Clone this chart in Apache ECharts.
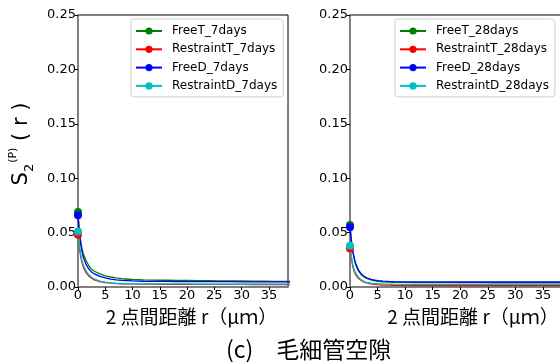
<!DOCTYPE html>
<html>
<head>
	<meta charset="utf-8">
	<title>chart</title>
</head>
<body style="margin:0; overflow:hidden;">

<div id="graph" style="width: 600px; height: 363px;"></div>
<script type="text/javascript" src="https://cdn.jsdelivr.net/npm/echarts@6/dist/echarts.min.js"></script>
<script type="text/javascript">
// 2 点間距離 r (μm)
const dist = [0, 0.25, 0.5, 0.75, 1, 1.5, 2, 2.5, 3, 4, 5, 6, 7, 8, 10, 12, 14, 16, 18, 20, 22, 24, 26, 28, 30, 32, 34, 36, 38, 41];

const names7 = ['FreeT_7days', 'RestraintT_7days', 'FreeD_7days', 'RestraintD_7days'];
const names28 = ['FreeT_28days', 'RestraintT_28days', 'FreeD_28days', 'RestraintD_28days'];

// 7days
const freeT7 = [0.069, 0.052, 0.042, 0.035, 0.030, 0.024, 0.0195, 0.0165, 0.0145, 0.0120, 0.0103, 0.0092, 0.0083, 0.0076, 0.0069, 0.0065, 0.0063, 0.0062, 0.0061, 0.0060, 0.0059, 0.0058, 0.0057, 0.0056, 0.0055, 0.0054, 0.0053, 0.0052, 0.0051, 0.0050];
const restraintT7 = [0.048, 0.036, 0.028, 0.022, 0.018, 0.0130, 0.0100, 0.0080, 0.0066, 0.0050, 0.0041, 0.0036, 0.0032, 0.0030, 0.0028, 0.0027, 0.0026, 0.0025, 0.0025, 0.0025, 0.0024, 0.0024, 0.0024, 0.0024, 0.0024, 0.0023, 0.0023, 0.0023, 0.0023, 0.0023];
const freeD7 = [0.066, 0.049, 0.039, 0.032, 0.027, 0.0205, 0.0165, 0.0138, 0.0120, 0.0097, 0.0083, 0.0073, 0.0066, 0.0061, 0.0056, 0.0053, 0.0052, 0.0051, 0.0050, 0.0050, 0.0050, 0.0049, 0.0049, 0.0049, 0.0048, 0.0048, 0.0048, 0.0047, 0.0047, 0.0047];
const restraintD7 = [0.051, 0.038, 0.030, 0.024, 0.020, 0.0145, 0.0112, 0.0090, 0.0074, 0.0055, 0.0044, 0.0038, 0.0034, 0.0032, 0.0030, 0.0029, 0.0028, 0.0028, 0.0028, 0.0028, 0.0027, 0.0027, 0.0027, 0.0027, 0.0027, 0.0027, 0.0026, 0.0026, 0.0026, 0.0026];

// 28days
const freeT28 = [0.057, 0.043, 0.033, 0.026, 0.021, 0.0150, 0.0115, 0.0093, 0.0079, 0.0062, 0.0053, 0.0048, 0.0045, 0.0043, 0.0042, 0.0041, 0.0041, 0.0040, 0.0040, 0.0040, 0.0040, 0.0040, 0.0039, 0.0039, 0.0039, 0.0039, 0.0039, 0.0039, 0.0039, 0.0039];
const restraintT28 = [0.0355, 0.026, 0.019, 0.0145, 0.0115, 0.0080, 0.0060, 0.0046, 0.0037, 0.0027, 0.0021, 0.0018, 0.0017, 0.0016, 0.0015, 0.0014, 0.0014, 0.0014, 0.0014, 0.0014, 0.0014, 0.0014, 0.0014, 0.0014, 0.0014, 0.0014, 0.0014, 0.0014, 0.0014, 0.0014];
const freeD28 = [0.055, 0.042, 0.033, 0.027, 0.022, 0.0160, 0.0124, 0.0100, 0.0085, 0.0068, 0.0059, 0.0054, 0.0051, 0.0049, 0.0048, 0.0047, 0.0047, 0.0047, 0.0047, 0.0046, 0.0046, 0.0046, 0.0046, 0.0046, 0.0046, 0.0046, 0.0046, 0.0046, 0.0046, 0.0046];
const restraintD28 = [0.038, 0.028, 0.021, 0.016, 0.0130, 0.0092, 0.0068, 0.0053, 0.0043, 0.0034, 0.0030, 0.0028, 0.0027, 0.0026, 0.0025, 0.0025, 0.0025, 0.0025, 0.0025, 0.0025, 0.0025, 0.0025, 0.0025, 0.0025, 0.0025, 0.0025, 0.0025, 0.0025, 0.0025, 0.0025];

const colors = ['#008000', '#ff0000', '#0000ff', '#00bfbf'];

(function(){
	let chart = echarts.init(document.getElementById("graph"), null, {renderer: 'canvas'});
	const latin = 'DejaVu Sans';
	const cjk = 'Noto Sans CJK JP';

	// 最初の点だけマーカーを表示
	function points(vals) {
		return vals.map((v, i) => i === 0 ? [dist[i], v] : {value: [dist[i], v], symbol: 'none'});
	}

	function makeSeries(name, vals, idx, color) {
		return {
			name: name,
			type: 'line',
			xAxisIndex: idx,
			yAxisIndex: idx,
			data: points(vals),
			symbol: 'circle',
			symbolSize: 8,
			showAllSymbol: true,
			color: color,
			lineStyle: {width: 1.3, color: color},
			itemStyle: {color: color},
			animation: false
		};
	}

	function xAxis(gridIndex, max, nameShift) {
		return {
			gridIndex: gridIndex,
			type: 'value',
			min: 0,
			max: max,
			interval: 5,
			name: '2 点間距離 r（μｍ）',
			nameLocation: 'middle',
			nameGap: 16,
			nameTextStyle: {fontFamily: cjk, fontSize: 19, color: '#000', padding: [0, 0, 0, nameShift]},
			axisLine: {show: true, onZero: false, lineStyle: {color: '#808080', width: 2}},
			axisTick: {show: true, length: 3, lineStyle: {color: '#000'}},
			axisLabel: {fontFamily: latin, fontSize: 13, color: '#000', margin: 2, showMaxLabel: false},
			splitLine: {show: false}
		};
	}

	function yAxis(gridIndex, withName) {
		let ax = {
			gridIndex: gridIndex,
			type: 'value',
			min: 0,
			max: 0.25,
			interval: 0.05,
			axisLine: {show: true, lineStyle: {color: '#808080', width: 2}},
			axisTick: {show: true, length: 3, lineStyle: {color: '#000'}},
			axisLabel: {fontFamily: latin, fontSize: 13, color: '#000', margin: 2, formatter: v => v.toFixed(2)},
			splitLine: {show: false}
		};
		if (withName) {
			ax.name = '{s|S}{sub|2}{sup|(P)}{s| ( r )}';
			ax.nameLocation = 'middle';
			ax.nameRotate = 90;
			ax.nameGap = 42;
			ax.nameTextStyle = {
				fontFamily: latin,
				color: '#000',
				padding: [0, 0, 0, 14],
				rich: {
					s: {fontFamily: latin, fontSize: 21, lineHeight: 28, verticalAlign: 'middle', color: '#000'},
					sub: {fontFamily: latin, fontSize: 13, lineHeight: 15, verticalAlign: 'bottom', color: '#000'},
					sup: {fontFamily: latin, fontSize: 11, lineHeight: 13, verticalAlign: 'top', color: '#000', padding: [0, 0, 0, 1]}
				}
			};
		}
		return ax;
	}

	function legend(left, data) {
		return {
			data: data,
			orient: 'vertical',
			left: left,
			top: 19,
			itemWidth: 26,
			itemHeight: 9,
			itemGap: 6.3,
			padding: [6, 6, 5, 4],
			backgroundColor: '#fff',
			borderColor: '#d0d0d0',
			borderWidth: 1,
			borderRadius: 3,
			textStyle: {fontFamily: latin, fontSize: 12, color: '#000', padding: [0, 0, 0, 5]}
		};
	}

	chart.setOption({
		animation: false,
		title: {
			text: '(c)　毛細管空隙',
			left: 226,
			top: 338,
			padding: 0,
			textStyle: {fontFamily: cjk, fontSize: 23, fontWeight: 'normal', color: '#000'}
		},
		legend: [legend(131, names7), legend(395, names28)],
		grid: [
			{left: 78, top: 15, width: 210, height: 272, show: true, borderColor: '#000', borderWidth: 1},
			{left: 350, top: 15, width: 226, height: 272, show: true, borderColor: '#000', borderWidth: 1}
		],
		xAxis: [xAxis(0, 38.5, 17), xAxis(1, 41, 20)],
		yAxis: [yAxis(0, true), yAxis(1, false)],
		series: [
			makeSeries(names7[0], freeT7, 0, colors[0]),
			makeSeries(names7[1], restraintT7, 0, colors[1]),
			makeSeries(names7[2], freeD7, 0, colors[2]),
			makeSeries(names7[3], restraintD7, 0, colors[3]),
			makeSeries(names28[0], freeT28, 1, colors[0]),
			makeSeries(names28[1], restraintT28, 1, colors[1]),
			makeSeries(names28[2], freeD28, 1, colors[2]),
			makeSeries(names28[3], restraintD28, 1, colors[3])
		]
	});
})();
</script>
</body>
</html>
